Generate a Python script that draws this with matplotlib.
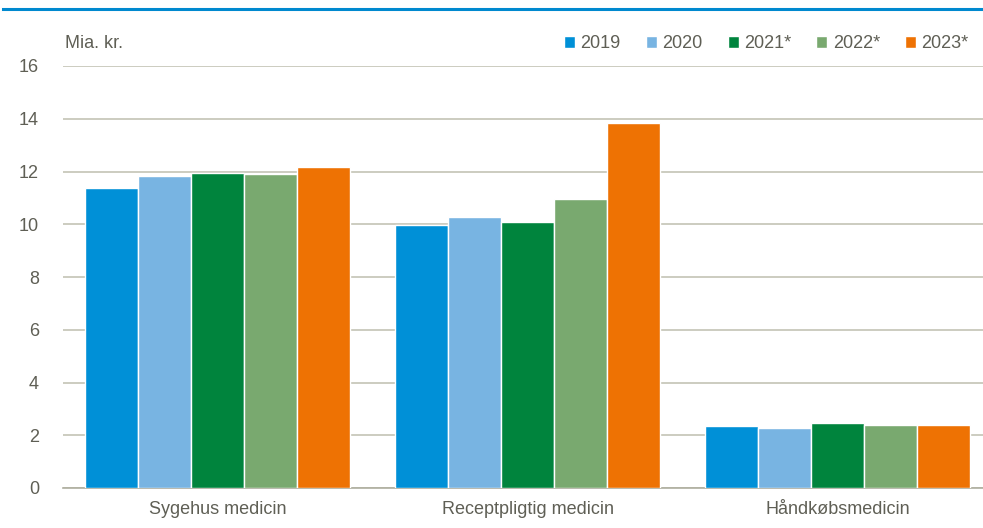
import matplotlib.pyplot as plt
import numpy as np

# Data (Mia. kr.)
categories = ["Sygehus medicin", "Receptpligtig medicin", "Håndkøbsmedicin"]
years = ["2019", "2020", "2021*", "2022*", "2023*"]
v2019 = [11.38, 9.96, 2.36]
v2020 = [11.84, 10.29, 2.28]
v2021 = [11.94, 10.08, 2.47]
v2022 = [11.90, 10.95, 2.37]
v2023 = [12.16, 13.84, 2.39]
series = [v2019, v2020, v2021, v2022, v2023]
colors = ["#0090d7", "#78b4e2", "#00843d", "#79a96f", "#ee7203"]

plt.rcParams['font.family'] = ['Liberation Sans Narrow', 'Liberation Sans', 'DejaVu Sans']
text_col = "#5f5f55"
grid_col = "#c3c3b5"

W, H = 983, 528
fig = plt.figure(figsize=(W / 100, H / 100), dpi=100)

# top blue rule
fig.add_artist(plt.Line2D([3 / W, 1.0], [1 - 9 / H, 1 - 9 / H], color="#0089cf", linewidth=2.2))

left, right, top, bottom = 62.5, 983, 66, 488
ax = fig.add_axes([left / W, 1 - bottom / H, (right - left) / W, (bottom - top) / H])

x = np.arange(len(categories))
bw = 0.171
for i, (vals, c) in enumerate(zip(series, colors)):
    ax.bar(x + (i - 2) * bw, vals, bw, color=c, edgecolor="white", linewidth=1.0,
           label=years[i], zorder=3)

ax.set_ylim(0, 16)
ax.set_yticks(range(0, 17, 2))
ax.set_xlim(-0.5, -0.5 + (right - left) / 310)
ax.set_xticks(x)
ax.set_xticklabels(categories)
ax.tick_params(axis="y", length=0, pad=17, labelsize=13, labelcolor=text_col)
ax.tick_params(axis="x", length=0, pad=9, labelsize=13, labelcolor=text_col)
ax.grid(axis="y", color=grid_col, linewidth=1.2, zorder=0)
for s in ["top", "right", "left"]:
    ax.spines[s].set_visible(False)
ax.spines["bottom"].set_color("#aeae9f")
ax.spines["bottom"].set_linewidth(1.2)

fig.text(65 / W, 1 - 44 / H, "Mia. kr.", fontsize=13, color=text_col, va="center")

leg = fig.legend(loc="center right", bbox_to_anchor=(985 / W, 1 - 44 / H), ncol=5,
                 frameon=False, fontsize=13, handlelength=0.6, handleheight=0.6,
                 handletextpad=0.3, columnspacing=1.4, labelcolor=text_col)

fig.savefig("out.png", dpi=100)
